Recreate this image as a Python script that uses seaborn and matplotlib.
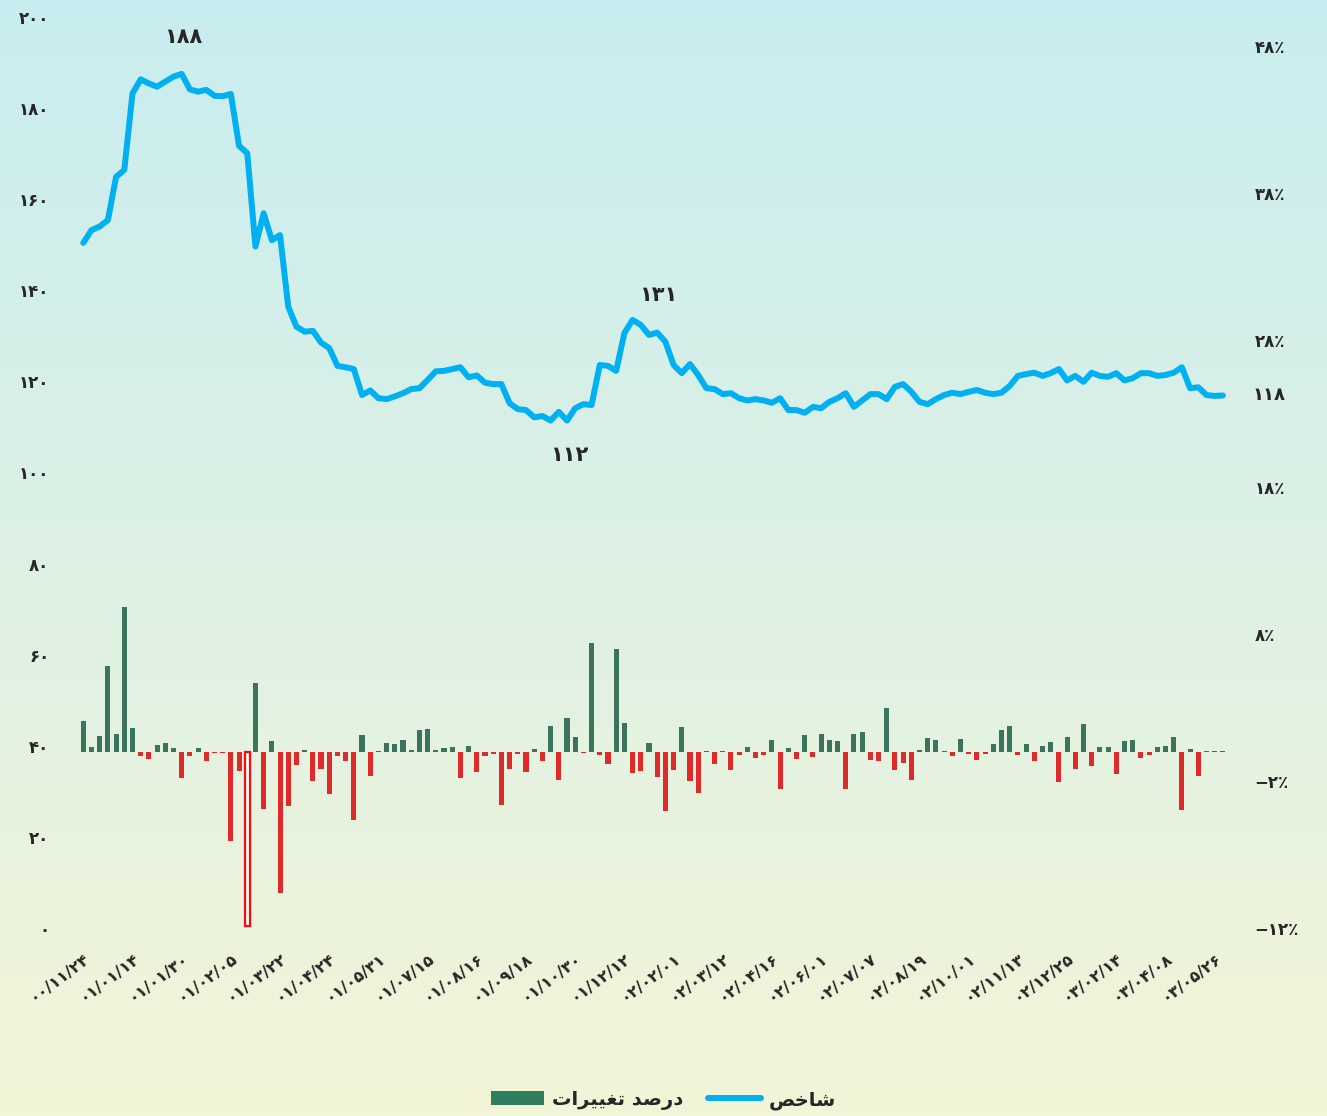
import numpy as np
import pandas as pd
import matplotlib
matplotlib.use("Agg")
import matplotlib.pyplot as plt
from matplotlib.colors import LinearSegmentedColormap
from matplotlib.patches import Patch
from matplotlib.lines import Line2D
import seaborn as sns

# index values (left axis)
index_vals = [
    150.4, 153.2, 154.0, 155.4, 164.9, 166.4, 183.2, 186.3, 185.4, 184.7,
    185.8, 186.9, 187.5, 184.1, 183.6, 184.0, 182.7, 182.6, 183.1, 171.7,
    170.1, 149.6, 156.9, 151.0, 152.1, 136.4, 132.0, 130.9, 131.1, 128.5,
    127.3, 123.4, 123.1, 122.7, 117.0, 118.0, 116.3, 116.1, 116.7, 117.4,
    118.3, 118.5, 120.3, 122.2, 122.3, 122.7, 123.1, 120.9, 121.3, 119.7,
    119.4, 119.4, 115.2, 113.9, 113.7, 112.1, 112.4, 111.4, 113.3, 111.4,
    114.1, 115.0, 114.8, 123.6, 123.4, 122.3, 130.6, 133.5, 132.4, 130.2,
    130.7, 128.7, 123.6, 121.8, 123.8, 121.4, 118.5, 118.3, 117.2, 117.4,
    116.3, 115.8, 116.1, 115.8, 115.3, 116.3, 113.7, 113.7, 113.1, 114.4,
    114.1, 115.5, 116.3, 117.4, 114.4, 115.8, 117.2, 117.2, 116.1, 118.8,
    119.4, 117.7, 115.5, 115.0, 116.1, 117.0, 117.5, 117.2, 117.7, 118.1,
    117.5, 117.2, 117.5, 119.0, 121.2, 121.6, 121.9, 121.2, 121.8, 122.7,
    120.2, 121.2, 119.9, 121.9, 121.2, 121.0, 121.8, 120.2, 120.7, 121.8,
    121.8, 121.2, 121.4, 121.9, 123.1, 118.5, 118.7, 117.0, 116.8, 116.9,
]

# percent change values (right axis)
change_pct = [
    2.09, 0.34, 1.07, 5.84, 1.23, 9.81, 1.61, -0.30, -0.48, 0.45,
    0.61, 0.23, -1.77, -0.30, 0.23, -0.61, -0.07, -0.07, -6.09, -1.29,
    -11.85, 4.70, -3.88, 0.75, -9.60, -3.70, -0.91, 0.09, -1.98, -1.16,
    -2.86, -0.30, -0.61, -4.63, 1.11, -1.63, 0.05, 0.61, 0.52, 0.77,
    0.11, 1.50, 1.54, 0.11, 0.25, 0.32, -1.77, 0.36, -1.36, -0.27,
    -0.14, -3.61, -1.16, -0.14, -1.36, 0.18, -0.61, 1.73, -1.91, 2.29,
    1.02, -0.07, 7.38, -0.20, -0.82, 7.00, 1.95, -1.43, -1.30, 0.57,
    -1.70, -4.02, -1.23, 1.70, -1.98, -2.80, 0.07, -0.82, 0.02, -1.23,
    -0.20, 0.30, -0.41, -0.20, 0.77, -2.52, 0.27, -0.48, 1.11, -0.34,
    1.18, 0.80, 0.73, -2.55, 1.20, 1.36, -0.55, -0.64, 2.95, -1.23,
    -0.75, -1.91, 0.14, 0.95, 0.80, 0.05, -0.27, 0.86, -0.14, -0.55,
    -0.14, 0.55, 1.45, 1.73, -0.20, 0.50, -0.61, 0.39, 0.68, -2.05,
    1.02, -1.16, 1.86, -0.95, 0.30, 0.32, -1.50, 0.70, 0.80, -0.41,
    -0.20, 0.32, 0.39, 1.00, -3.95, 0.18, -1.64, 0.02, 0.02, 0.02,
]
hollow_bar = 20

date_labels = [
    "۰۰/۱۱/۲۴", "۰۱/۰۱/۱۴", "۰۱/۰۱/۳۰", "۰۱/۰۲/۰۵", "۰۱/۰۳/۲۲", "۰۱/۰۴/۲۴",
    "۰۱/۰۵/۳۱", "۰۱/۰۷/۱۵", "۰۱/۰۸/۱۶", "۰۱/۰۹/۱۸", "۰۱/۱۰/۳۰", "۰۱/۱۲/۱۲",
    "۰۲/۰۲/۰۱", "۰۲/۰۳/۱۲", "۰۲/۰۴/۱۶", "۰۲/۰۶/۰۱", "۰۲/۰۷/۰۷", "۰۲/۰۸/۱۹",
    "۰۲/۱۰/۰۱", "۰۲/۱۱/۱۳", "۰۲/۱۲/۲۵", "۰۳/۰۲/۱۴", "۰۳/۰۴/۰۸", "۰۳/۰۵/۲۶",
]
label_step = 6

left_ticks = list(range(0, 201, 20))
right_ticks = list(range(-12, 49, 10))

# annotations: (text, x position, y value)
annotations = [("۱۸۸", 12.2, 195.6), ("۱۳۱", 70.1, 139.0), ("۱۱۲", 59.3, 103.8)]
last_label = "۱۱۸"

# legend labels (presentation forms, visual order)
legend_line = "\uFEBA\uFEA7\uFE8E\uFEB7"  # شاخص
legend_bars = "\uFE95\uFE8D\uFEAE\uFEF4\uFEF4\uFED0\uFE97 \uFEAA\uFEBB\uFEAD\uFEA9"  # درصد تغییرات

GREEN = "#317d5f"
RED = "#ff0a0a"
BLUE = "#00b0f0"

fa_digits = str.maketrans("0123456789", "۰۱۲۳۴۵۶۷۸۹")


def fa(n):
    s = str(abs(n)).translate(fa_digits)
    return ("\u2212" + s) if n < 0 else s


sns.set_style("white")
plt.rcParams["font.family"] = ["DejaVu Sans"]

n = len(index_vals)
df = pd.DataFrame({
    "pos": np.arange(n),
    "index": index_vals,
    "change": change_pct,
})
df["sign"] = np.where(df["change"] >= 0, "up", "down")

fig = plt.figure(figsize=(13.27, 11.16), dpi=100)

# background gradient
bg = fig.add_axes([0, 0, 1, 1], zorder=-10)
cmap = LinearSegmentedColormap.from_list("bg", ["#c8edf0", "#f3f5d8"])
bg.imshow(np.linspace(0, 1, 256).reshape(-1, 1), aspect="auto", cmap=cmap,
          extent=[0, 1, 0, 1])
bg.axis("off")

ax = fig.add_axes([0.0467, 0.1685, 0.9382 - 0.0467, 0.9848 - 0.1685])
ax.patch.set_alpha(0)
ax2 = ax.twinx()
ax2.patch.set_alpha(0)

# bars
sns.barplot(data=df, x="pos", y="change", hue="sign",
            palette={"up": GREEN, "down": RED}, dodge=False, legend=False,
            width=0.62, ax=ax2, linewidth=0.8, edgecolor=None)
for p in ax2.patches:
    cx = p.get_x() + p.get_width() / 2
    if p.get_facecolor()[:3] == matplotlib.colors.to_rgb(GREEN):
        p.set_edgecolor("#8fc2aa")
    else:
        p.set_edgecolor(RED)
        p.set_linewidth(0)
    if abs(cx - hollow_bar) < 0.3:
        p.set_facecolor("white")
        p.set_edgecolor(RED)
        p.set_linewidth(1.6)

# line
sns.lineplot(data=df, x="pos", y="index", color=BLUE, linewidth=4.3, ax=ax,
             solid_capstyle="round", solid_joinstyle="round", zorder=5)

ax.set_xlim(-2.6, 141.7)
ax.set_ylim(0, 200)
ax2.set_ylim(-12, 50)
ax.set_zorder(ax2.get_zorder() + 1)

tick_pos = list(range(0, n, label_step))[:len(date_labels)]
ax.set_xticks(tick_pos)
ax.set_xticklabels(date_labels, rotation=37, ha="right", va="top",
                   rotation_mode="anchor", fontsize=11.5, fontweight="bold")
ax.tick_params(axis="x", length=0, pad=16)

ax.set_yticks(left_ticks)
ax.set_yticklabels([fa(v) for v in left_ticks], fontsize=12, fontweight="bold")
ax.tick_params(axis="y", length=0, pad=9)

ax2.set_yticks(right_ticks)
ax2.set_yticklabels([fa(v) + "٪" for v in right_ticks], fontsize=12,
                    fontweight="bold", ha="left")
ax2.tick_params(axis="y", length=0, pad=7)

ax.set_xlabel("")
ax.set_ylabel("")
ax2.set_xlabel("")
ax2.set_ylabel("")
for a in (ax, ax2):
    for s in a.spines.values():
        s.set_visible(False)

for txt, x, y in annotations:
    ax.text(x, y, txt, ha="center", va="center", fontsize=15, fontweight="bold")
ax.text(n + 2.6, index_vals[-1], last_label, ha="left", va="center",
        fontsize=13, fontweight="bold", clip_on=False)

handles = [Patch(facecolor=GREEN, edgecolor="none"),
           Line2D([0], [0], color=BLUE, linewidth=4.3, solid_capstyle="round")]
fig.legend(handles, [legend_bars, legend_line], loc="center",
           bbox_to_anchor=(0.5, 0.0143), ncol=2, frameon=False,
           prop={"size": 14, "weight": "bold"}, handlelength=2.7,
           handleheight=0.7, columnspacing=1.3, handletextpad=0.4)

fig.savefig("out.png", dpi=100)
